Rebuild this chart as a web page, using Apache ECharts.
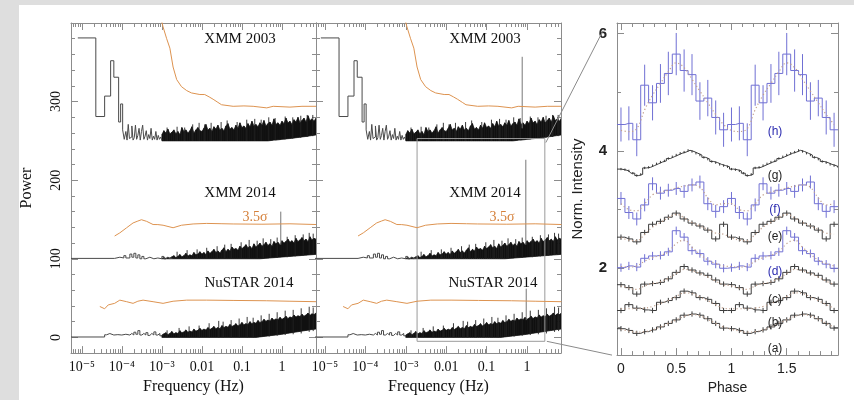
<!DOCTYPE html>
<html>
<head>
<meta charset="utf-8">
<script src="https://cdn.jsdelivr.net/npm/echarts@6/dist/echarts.min.js"></script>
<style>
  html, body { margin: 0; padding: 0; background: #dedede; }
  #sheet { position: absolute; left: 19px; top: 5px; width: 835px; height: 395px; background: #fff; }
  #c { position: absolute; left: 0; top: 0; width: 854px; height: 400px; }
</style>
</head>
<body>
<div id="sheet"></div>
<div id="c"></div>
<script>
// ---------- axis ticks and labels ----------
const freqTickPos = [-5, -4, -3, -2, -1, 0];           // log10(Hz)
const freqTickText = ['10⁻⁵', '10⁻⁴', '10⁻³', '0.01', '0.1', '1'];
const powerTicks = [0, 100, 200, 300];
const powerMinorTicks = [-20, 20, 40, 60, 80, 120, 140, 160, 180, 220, 240, 260, 280, 320, 340, 360, 380];
const phaseTicks = [0, 0.5, 1, 1.5];
const phaseTickText = ['0', '0.5', '1', '1.5'];
const phaseMinorTicks = [0.1, 0.2, 0.3, 0.4, 0.6, 0.7, 0.8, 0.9, 1.1, 1.2, 1.3, 1.4, 1.6, 1.7, 1.8, 1.9];
const intensityTicks = [2, 4, 6];
const intensityMinorTicks = [1, 3, 5];

// ---------- power spectra: [log10 f, power] (offset by 250 / 100 / 0) ----------
// low-frequency bins, each power holds until the next frequency
const xmm03Low = [[-5.10, 381], [-4.65, 281], [-4.43, 307], [-4.28, 352], [-4.20, 331], [-4.08, 274], [-4.03, 297],
  [-3.98, 264], [-3.94, 252], [-3.90, 262], [-3.87, 251], [-3.84, 271], [-3.81, 253], [-3.78, 255], [-3.75, 269],
  [-3.72, 251], [-3.69, 254], [-3.66, 270], [-3.63, 252], [-3.60, 257], [-3.57, 266], [-3.54, 251], [-3.51, 262],
  [-3.48, 270], [-3.45, 252], [-3.42, 256], [-3.39, 263], [-3.36, 251], [-3.33, 258], [-3.30, 253], [-3.27, 266],
  [-3.24, 251], [-3.21, 256], [-3.18, 252], [-3.15, 262], [-3.12, 251], [-3.09, 257], [-3.06, 252], [-3.03, 255], [-3.00, 251]];
const xmm14Low = [[-5.27, 100.5], [-4.18, 102], [-4.05, 101], [-3.95, 104], [-3.90, 101], [-3.80, 106], [-3.75, 102],
  [-3.70, 107], [-3.65, 101], [-3.60, 105], [-3.55, 100], [-3.50, 103], [-3.45, 100], [-3.40, 102], [-3.30, 100],
  [-3.20, 101], [-3.10, 100], [-3.00, 103], [-2.95, 100], [-2.90, 102], [-2.85, 100], [-2.80, 101], [-2.75, 100]];
const nuLow = [[-5.27, 0.5], [-4.43, 3.3], [-4.38, 4.9], [-4.30, 3], [-4.20, 3.5], [-4.10, 3], [-4.00, 4], [-3.90, 3],
  [-3.80, 5], [-3.75, 3], [-3.70, 6.6], [-3.65, 4], [-3.60, 8.6], [-3.55, 3], [-3.50, 5], [-3.45, 3], [-3.40, 6],
  [-3.35, 2.5], [-3.30, 5], [-3.25, 3], [-3.20, 7], [-3.15, 3], [-3.10, 5], [-3.05, 2], [-3.00, 3]];

// dense high-frequency part, sampled every 0.05 dex: lower and upper edge of the noise
const bandFreq = [-3.00, -2.95, -2.90, -2.85, -2.80, -2.75, -2.70, -2.65, -2.60, -2.55,
  -2.50, -2.45, -2.40, -2.35, -2.30, -2.25, -2.20, -2.15, -2.10, -2.05,
  -2.00, -1.95, -1.90, -1.85, -1.80, -1.75, -1.70, -1.65, -1.60, -1.55,
  -1.50, -1.45, -1.40, -1.35, -1.30, -1.25, -1.20, -1.15, -1.10, -1.05,
  -1.00, -0.95, -0.90, -0.85, -0.80, -0.75, -0.70, -0.65, -0.60, -0.55,
  -0.50, -0.45, -0.40, -0.35, -0.30, -0.25, -0.20, -0.15, -0.10, -0.05,
  0.00, 0.05, 0.10, 0.15, 0.20, 0.25, 0.30, 0.35, 0.40, 0.45,
  0.50, 0.55, 0.60, 0.65, 0.70, 0.75, 0.80, 0.85];
const xmm03Upper = [258, 263, 260, 265, 259, 261, 264, 259, 262, 258,
  267, 262, 264, 260, 263, 268, 260, 264, 267, 263,
  262, 266, 271, 264, 266, 262, 268, 265, 270, 264,
  266, 263, 269, 272, 265, 267, 264, 270, 266, 273,
  267, 269, 266, 272, 268, 275, 269, 271, 268, 273,
  270, 276, 269, 272, 274, 270, 278, 271, 273, 270,
  275, 272, 279, 273, 275, 271, 277, 274, 280, 273,
  276, 279, 274, 282, 276, 278, 275, 279];
const xmm03Lower = [250, 250, 250, 250, 250, 250, 250, 250, 250, 250,
  250, 250, 250, 250, 250, 250, 250, 250, 250, 250,
  250, 250, 250, 250, 250, 250, 250, 250, 250, 250,
  250, 250, 250, 250, 250, 250, 250, 250, 250, 250,
  250, 250, 250, 250, 250, 250, 250, 250, 250, 250,
  250, 250, 250, 250, 250.3, 250.6, 251, 251, 251.3, 251.6,
  252, 252.2, 252.5, 252.8, 253, 253.3, 253.6, 254, 254.3, 254.6,
  255, 255.3, 255.6, 256, 256.4, 256.8, 257.2, 257.5];
const xmm14Upper = [100.5, 101.5, 100.5, 102, 101, 102.5, 104, 101.5, 103, 105.5,
  102.5, 104, 107, 103.5, 105, 104, 108, 105, 106, 109,
  106, 108, 105.5, 110, 107, 109, 112, 108, 110, 107.5,
  111, 114, 109, 112, 110, 115, 112, 113, 111, 116,
  113, 115, 118, 114, 116, 113, 119, 115, 117, 120,
  116, 118, 121, 117, 119, 116, 122, 119, 121, 118,
  123, 120, 122, 125, 121, 123, 120, 126, 122, 124,
  127, 123, 125, 122, 128, 124, 126, 125];
const xmm14Lower = [100, 100, 100, 100, 100, 100, 100, 100, 100, 100,
  100, 100, 100, 100, 100, 100, 100, 100, 100, 100,
  100, 100, 100, 100, 100, 100, 100, 100, 100, 100,
  100, 100, 100, 100, 100, 100, 100, 100, 100, 100,
  100, 100, 100, 100, 100, 100, 100, 100, 100, 100,
  100.2, 100.4, 100.6, 100.8, 101, 101.2, 101.4, 101.6, 101.8, 102,
  102.2, 102.4, 102.6, 102.8, 103, 103.2, 103.4, 103.6, 103.8, 104,
  104.2, 104.4, 104.6, 104.8, 105, 105.2, 105.4, 105.6];
const nuUpper = [3, 4.5, 6, 3.5, 5, 7.5, 4.5, 6, 5, 8.5,
  6, 7, 9.5, 6.5, 8, 7, 10.5, 8, 9, 11.5,
  9, 10.5, 9.5, 12.5, 10, 11.5, 14, 11, 12.5, 11,
  15, 12.5, 14, 13, 16.5, 14, 15, 17.5, 14.5, 16,
  19, 16, 17.5, 16.5, 20, 17.5, 19, 18, 21.5, 19,
  20, 23, 20.5, 22, 21, 24.5, 22, 23.5, 22.5, 25.5,
  23, 24.5, 27, 24, 26, 25, 28.5, 26, 27.5, 26.5,
  29.5, 27, 28.5, 31, 28, 30, 29, 31];
const nuLower = [0, 0, 0, 0, 0, 0, 0, 0, 0, 0,
  0, 0, 0, 0, 0, 0, 0, 0, 0, 0,
  0, 0, 0, 0, 0, 0, 0, 0, 0, 0,
  0, 0, 0, 0, 0, 0, 0, 0, 0, 0,
  0, 0, 0, 0, 0, 0, 0, 0, 0.3, 0.6,
  0.9, 1.2, 1.5, 1.8, 2.1, 2.4, 2.7, 3.0, 3.3, 3.6,
  4.0, 4.4, 4.8, 5.2, 5.6, 6.0, 6.4, 6.8, 7.2, 7.6,
  8.0, 8.4, 8.8, 9.2, 9.6, 10, 10.3, 10.6];

// tallest individual bins: [log10 f, floor, peak]
const xmm03Spikes = [[-2.87, 250, 267], [-2.62, 250, 268], [-2.43, 250, 267], [-2.23, 250, 271], [-2.07, 250, 273],
  [-1.93, 250, 271], [-1.77, 250, 273], [-1.52, 250, 274], [-1.37, 250, 276], [-1.12, 250, 274], [-0.88, 250, 277],
  [-0.68, 250, 278], [-0.52, 250, 277], [-0.33, 250, 280], [-0.17, 251, 279], [0.08, 252, 281], [0.27, 253, 280],
  [0.47, 254, 282], [0.63, 255, 283], [0.77, 256, 283]];
const xmm14Spikes = [[-2.62, 100, 109], [-2.37, 100, 111], [-2.12, 100, 112], [-1.88, 100, 114], [-1.62, 100, 116],
  [-1.43, 100, 118], [-1.27, 100, 119], [-1.02, 100, 121], [-0.82, 100, 124], [-0.62, 100, 123], [-0.47, 100, 126],
  [-0.28, 101, 125], [-0.12, 101, 127], [0.13, 102, 128], [0.33, 103, 130], [0.53, 104, 131], [0.68, 105, 133],
  [0.78, 105, 132]];
const nuSpikes = [[-2.87, 0, 9], [-2.57, 0, 12], [-2.32, 0, 14], [-2.07, 0, 15], [-1.82, 0, 18], [-1.58, 0, 21],
  [-1.47, 0, 20], [-1.27, 0, 22], [-1.07, 0, 24], [-0.87, 0, 26], [-0.72, 0, 25], [-0.52, 1, 28], [-0.32, 1, 30],
  [-0.12, 2, 32], [0.08, 3, 34], [0.28, 4, 35], [0.48, 5, 37], [0.68, 7, 39], [0.78, 8, 38]];

// 3.5 sigma detection thresholds
const xmm03Sigma = [[-3.02, 405], [-2.97, 395], [-2.88, 380], [-2.8, 368], [-2.72, 344], [-2.63, 328], [-2.51, 319],
  [-2.38, 314], [-2.26, 311], [-2.05, 309], [-2.01, 311], [-1.93, 309], [-1.82, 306], [-1.72, 303], [-1.6, 299],
  [-1.51, 296], [-1.22, 294], [-0.95, 294.5], [-0.72, 294], [-0.38, 292], [-0.22, 294], [0.2, 293], [0.5, 294], [0.85, 294]];
const xmm14Sigma = [[-4.18, 129], [-4.05, 133], [-3.88, 139.5], [-3.72, 145.6], [-3.6, 148], [-3.51, 149.7],
  [-3.38, 147.6], [-3.22, 143.6], [-3.1, 143.5], [-2.97, 142.7], [-2.72, 139.5], [-2.51, 142.7], [-2.22, 144.3],
  [-1.88, 145], [-1.5, 144.6], [-1.22, 144.3], [-0.5, 144], [0.2, 144.5], [0.85, 143.6]];
const nuSigma = [[-4.55, 39.3], [-4.43, 36.4], [-4.34, 41.3], [-4.18, 43.3], [-4.05, 47.4], [-3.88, 45.4],
  [-3.72, 43.3], [-3.6, 46], [-3.47, 47.4], [-3.22, 45.4], [-2.97, 43.3], [-2.72, 46], [-2.38, 47.4],
  [-1.88, 47.4], [-1.2, 47], [-0.38, 46.6], [0.2, 46], [0.85, 45.4]];

// pulse-frequency bins: [log10 f, bottom, top]
const leftPulse = [[-0.03, 118, 160]];
const midPulse = [[-0.12, 266, 357], [-0.03, 118, 226], [-0.02, 22, 62]];

// zoomed region: [log f min, power min, log f max, power max]
const zoomBox = [-2.72, -5, 0.44, 253];

// ---------- folded pulse profiles (one cycle, 14 bins; g has 28) ----------
const profH = [4.45, 4.47, 4.19, 5.12, 4.82, 5.15, 5.32, 5.65, 5.37, 5.30, 4.85, 4.90, 4.57, 4.36];
const errH  = [0.29, 0.29, 0.28, 0.35, 0.30, 0.33, 0.37, 0.36, 0.36, 0.35, 0.32, 0.31, 0.29, 0.29];
const modH  = [4.35, 4.33, 4.38, 4.70, 4.95, 5.15, 5.35, 5.50, 5.42, 5.22, 5.02, 4.82, 4.62, 4.45];
const profG = [3.69, 3.68, 3.66, 3.62, 3.58, 3.60, 3.71, 3.72, 3.75, 3.78, 3.81, 3.83, 3.87, 3.90,
               3.93, 3.96, 3.98, 4.01, 3.99, 3.96, 3.93, 3.89, 3.86, 3.82, 3.80, 3.77, 3.75, 3.73];
const profF = [3.19, 2.95, 2.84, 3.08, 3.44, 3.28, 3.33, 3.36, 3.31, 3.42, 3.47, 3.10, 2.97, 3.05];
const modF  = [3.10, 3.00, 2.98, 3.10, 3.25, 3.30, 3.33, 3.37, 3.40, 3.42, 3.38, 3.20, 3.08, 3.10];
const profE = [2.53, 2.50, 2.45, 2.61, 2.75, 2.80, 2.87, 2.94, 2.84, 2.77, 2.72, 2.65, 2.50, 2.75];
const modE  = [2.52, 2.48, 2.47, 2.58, 2.70, 2.78, 2.86, 2.92, 2.86, 2.78, 2.72, 2.66, 2.60, 2.58];
const profD = [2.01, 2.04, 2.02, 2.17, 2.21, 2.22, 2.28, 2.64, 2.53, 2.30, 2.25, 2.12, 2.07, 2.00];
const modD  = [2.03, 2.02, 2.04, 2.12, 2.18, 2.22, 2.28, 2.42, 2.48, 2.36, 2.24, 2.14, 2.08, 2.04];
const profC = [1.72, 1.67, 1.56, 1.73, 1.74, 1.76, 1.82, 1.93, 2.03, 1.97, 1.92, 1.88, 1.80, 1.73];
const modC  = [1.70, 1.66, 1.64, 1.70, 1.74, 1.77, 1.83, 1.91, 1.98, 1.96, 1.91, 1.85, 1.78, 1.72];
const profB = [1.28, 1.38, 1.32, 1.29, 1.28, 1.42, 1.45, 1.50, 1.61, 1.58, 1.50, 1.47, 1.40, 1.28];
const modB  = [1.31, 1.31, 1.31, 1.32, 1.35, 1.40, 1.45, 1.52, 1.58, 1.57, 1.51, 1.45, 1.38, 1.32];
const profA = [0.97, 0.94, 0.89, 0.92, 0.95, 1.00, 1.06, 1.12, 1.20, 1.22, 1.20, 1.14, 1.06, 0.98];
const modA  = [0.96, 0.93, 0.91, 0.92, 0.95, 1.00, 1.06, 1.12, 1.18, 1.21, 1.19, 1.13, 1.06, 1.00];

// ---------- styling ----------
const SERIF = '"Liberation Serif", "DejaVu Serif", serif';
const SANS = '"Liberation Sans", Arial, sans-serif';
const FRAME = '#8c8c8c';
const ORANGE = '#dd9350';
const NOISE = '#111111';
const STEPS = '#4a4a4a';
const BLUE = '#7070d4';
const BLUE_TEXT = '#2c2cb0';
const GREY_PROFILE = '#3c3c3c';
const MODEL = '#c2a08c';

const PHASE_MIN = -0.036, PHASE_MAX = 1.964;

// ---------- axes ----------
const xAxes = [], yAxes = [];
const FRAME_LINE = { show: true, onZero: false, lineStyle: { color: FRAME, width: 1 } };
function freqMinor(min, max) {
  const out = [];
  for (let n = -6; n <= 0; n++) {
    for (let k = 2; k <= 9; k++) {
      const v = n + Math.log10(k);
      if (v > min && v < max) out.push(v);
    }
  }
  return out;
}
function tickAxis(base, ticks, len, extra) {
  return Object.assign({}, base, {
    axisLine: { show: false, onZero: false },
    axisTick: { show: true, inside: true, length: len, customValues: ticks, lineStyle: { color: FRAME } },
    axisLabel: { show: false },
    splitLine: { show: false }
  }, extra || {});
}
function addLogPanel(gi, min, max, showPowerLabels) {
  const bx = { gridIndex: gi, type: 'value', min: min, max: max };
  const minor = freqMinor(min, max);
  xAxes.push(Object.assign({}, bx, {
    position: 'bottom',
    axisLine: FRAME_LINE,
    axisTick: { show: true, inside: true, length: 7, customValues: freqTickPos, lineStyle: { color: FRAME } },
    axisLabel: {
      customValues: freqTickPos, margin: 7, color: '#111', fontFamily: SERIF, fontSize: 14,
      formatter: v => freqTickText[freqTickPos.indexOf(Math.round(v))]
    },
    splitLine: { show: false },
    name: 'Frequency (Hz)', nameLocation: 'middle', nameGap: 23,
    nameTextStyle: { fontFamily: SERIF, fontSize: 16, color: '#111' }
  }));
  xAxes.push(tickAxis(bx, minor, 4, { position: 'bottom' }));
  xAxes.push(Object.assign(tickAxis(bx, freqTickPos, 7, { position: 'top' }), { axisLine: FRAME_LINE }));
  xAxes.push(tickAxis(bx, minor, 4, { position: 'top' }));

  const by = { gridIndex: gi, type: 'value', min: -20, max: 400 };
  yAxes.push(Object.assign({}, by, {
    position: 'left',
    axisLine: FRAME_LINE,
    axisTick: { show: true, inside: true, length: 7, customValues: powerTicks, lineStyle: { color: FRAME } },
    axisLabel: showPowerLabels ? {
      customValues: powerTicks, rotate: 90, margin: 8, color: '#111', fontFamily: SERIF, fontSize: 14
    } : { show: false },
    splitLine: { show: false },
    name: showPowerLabels ? 'Power' : '', nameLocation: 'middle', nameGap: 36, nameRotate: 90,
    nameTextStyle: { fontFamily: SERIF, fontSize: 16, color: '#111' }
  }));
  yAxes.push(tickAxis(by, powerMinorTicks, 4, { position: 'left' }));
  yAxes.push(Object.assign(tickAxis(by, powerTicks, 7, { position: 'right' }), { axisLine: FRAME_LINE }));
  yAxes.push(tickAxis(by, powerMinorTicks, 4, { position: 'right' }));
}
addLogPanel(0, -5.27, 0.85, true);
addLogPanel(1, -5.22, 0.84, false);

(function addPhasePanel() {
  const bx = { gridIndex: 2, type: 'value', min: PHASE_MIN, max: PHASE_MAX };
  xAxes.push(Object.assign({}, bx, {
    position: 'bottom',
    axisLine: FRAME_LINE,
    axisTick: { show: true, inside: true, length: 7, customValues: phaseTicks, lineStyle: { color: FRAME } },
    axisLabel: {
      customValues: phaseTicks, margin: 7, color: '#222', fontFamily: SANS, fontSize: 14,
      formatter: v => phaseTickText[phaseTicks.indexOf(v)]
    },
    splitLine: { show: false },
    name: 'Phase', nameLocation: 'middle', nameGap: 22,
    nameTextStyle: { fontFamily: SANS, fontSize: 14, color: '#222' }
  }));
  xAxes.push(tickAxis(bx, phaseMinorTicks, 4, { position: 'bottom' }));
  xAxes.push(Object.assign(tickAxis(bx, phaseTicks, 7, { position: 'top' }), { axisLine: FRAME_LINE }));
  xAxes.push(tickAxis(bx, phaseMinorTicks, 4, { position: 'top' }));

  const by = { gridIndex: 2, type: 'value', min: 0.52, max: 6.18 };
  yAxes.push(Object.assign({}, by, {
    position: 'left',
    axisLine: FRAME_LINE,
    axisTick: { show: true, inside: true, length: 7, customValues: intensityTicks, lineStyle: { color: FRAME } },
    axisLabel: {
      customValues: intensityTicks, margin: 10, color: '#222', fontFamily: SANS, fontSize: 15, fontWeight: 'bold'
    },
    splitLine: { show: false },
    name: 'Norm. Intensity', nameLocation: 'middle', nameGap: 32, nameRotate: 90,
    nameTextStyle: { fontFamily: SANS, fontSize: 15, color: '#222' }
  }));
  yAxes.push(tickAxis(by, intensityMinorTicks, 4, { position: 'left' }));
  yAxes.push(Object.assign(tickAxis(by, intensityTicks, 7, { position: 'right' }), { axisLine: FRAME_LINE }));
  yAxes.push(tickAxis(by, intensityMinorTicks, 4, { position: 'right' }));
})();

// ---------- series builders ----------
const series = [];
function bandSeries(lower, upper, ai) {
  const rows = bandFreq.map((f, i) => [f, lower[i], upper[i]]);
  return {
    type: 'custom', xAxisIndex: ai, yAxisIndex: ai, clip: true, silent: true,
    data: rows,
    renderItem: (params, api) => {
      const i = params.dataIndex;
      if (i >= rows.length - 1) return null;
      const a = rows[i], b = rows[i + 1];
      return {
        type: 'polygon',
        shape: { points: [api.coord([a[0], a[1]]), api.coord([b[0], b[1]]), api.coord([b[0], b[2]]), api.coord([a[0], a[2]])] },
        style: { fill: NOISE, stroke: NOISE, lineWidth: 0.7 }
      };
    }
  };
}
function vlineSeries(rows, ai, color, width) {
  return {
    type: 'custom', xAxisIndex: ai, yAxisIndex: ai, clip: true, silent: true,
    data: rows,
    renderItem: (params, api) => {
      const p0 = api.coord([api.value(0), api.value(1)]);
      const p1 = api.coord([api.value(0), api.value(2)]);
      return { type: 'line', shape: { x1: p0[0], y1: p0[1], x2: p1[0], y2: p1[1] },
               style: { stroke: color, lineWidth: width } };
    }
  };
}
function lineSeries(rows, ai, color, opts) {
  return Object.assign({
    type: 'line', xAxisIndex: ai, yAxisIndex: ai, data: rows, symbol: 'none', silent: true,
    lineStyle: { color: color, width: 1 }, clip: true, animation: false
  }, opts || {});
}

[0, 4].forEach((ai, panel) => {
  series.push(lineSeries(xmm03Sigma, ai, ORANGE));
  series.push(lineSeries(xmm14Sigma, ai, ORANGE));
  series.push(lineSeries(nuSigma, ai, ORANGE));
  series.push(lineSeries(xmm03Low, ai, STEPS, { step: 'end' }));
  series.push(lineSeries(xmm14Low, ai, STEPS, { step: 'end' }));
  series.push(lineSeries(nuLow, ai, STEPS, { step: 'end' }));
  series.push(bandSeries(xmm03Lower, xmm03Upper, ai));
  series.push(bandSeries(xmm14Lower, xmm14Upper, ai));
  series.push(bandSeries(nuLower, nuUpper, ai));
  series.push(vlineSeries(xmm03Spikes, ai, '#222', 0.9));
  series.push(vlineSeries(xmm14Spikes, ai, '#222', 0.9));
  series.push(vlineSeries(nuSpikes, ai, '#222', 0.9));
  series.push(vlineSeries(panel === 0 ? leftPulse : midPulse, ai, '#777', 1));
});

// outline of the zoomed region in the middle panel
series.push({
  type: 'custom', xAxisIndex: 4, yAxisIndex: 4, silent: true, data: [zoomBox],
  renderItem: (params, api) => {
    const p0 = api.coord([api.value(0), api.value(3)]);
    const p1 = api.coord([api.value(2), api.value(1)]);
    return { type: 'rect', shape: { x: p0[0], y: p0[1], width: p1[0] - p0[0], height: p1[1] - p0[1] },
             style: { fill: 'none', stroke: '#9a9a9a', lineWidth: 1 } };
  }
});

// pulse profiles: two cycles of each folded light curve
function twoCycles(vals) {
  const n = vals.length, pts = [];
  const all = vals.concat(vals);
  pts.push([PHASE_MIN, all[0]]);
  all.forEach((v, k) => pts.push([k / n, v]));
  pts.push([PHASE_MAX, all[all.length - 1]]);
  return pts;
}
function profile(vals, errs, model, color) {
  const ai = 8;
  series.push(lineSeries(twoCycles(vals), ai, color, { step: 'middle', lineStyle: { color: color, width: 1 } }));
  const n = vals.length;
  const bars = [];
  vals.concat(vals).forEach((v, k) => {
    const e = Array.isArray(errs) ? errs[k % n] : errs;
    bars.push([k / n, v - e, v + e]);
  });
  series.push(vlineSeries(bars, ai, color, 1));
  if (model) {
    const m = model.concat(model).map((v, k) => [k / n, v]);
    series.push(lineSeries(m, ai, MODEL, { smooth: 0.4, lineStyle: { color: MODEL, width: 1.2, type: [1.2, 2.5] } }));
  }
}
profile(profA, 0.045, modA, GREY_PROFILE);
profile(profB, 0.045, modB, GREY_PROFILE);
profile(profC, 0.045, modC, GREY_PROFILE);
profile(profD, 0.07, modD, BLUE);
profile(profE, 0.045, modE, GREY_PROFILE);
profile(profF, 0.11, modF, BLUE);
profile(profG, 0.02, null, GREY_PROFILE);
profile(profH, errH, modH, BLUE);

// ---------- text annotations ----------
function txt(id, x, y, text, font, color) {
  return { id: id, type: 'text', x: x, y: y, z: 100, silent: true,
           style: { text: text, font: font, fill: color, align: 'center', verticalAlign: 'middle' } };
}
const F_PANEL = '15px ' + SERIF;
const F_SIG = '14px ' + SERIF;
const F_LBL = '12px ' + SANS;
const texts = [
  txt('t1', 240, 39, 'XMM 2003', F_PANEL, '#111'),
  txt('t2', 240, 193, 'XMM 2014', F_PANEL, '#111'),
  txt('t3', 249, 283, 'NuSTAR 2014', F_PANEL, '#111'),
  txt('t4', 255, 217, '3.5σ', F_SIG, '#d5803a'),
  txt('t5', 485, 39, 'XMM 2003', F_PANEL, '#111'),
  txt('t6', 485, 193, 'XMM 2014', F_PANEL, '#111'),
  txt('t7', 493, 283, 'NuSTAR 2014', F_PANEL, '#111'),
  txt('t8', 502, 217, '3.5σ', F_SIG, '#d5803a'),
  txt('ph', 775, 132, '(h)', F_LBL, BLUE_TEXT),
  txt('pg', 775, 176, '(g)', F_LBL, '#222'),
  txt('pf', 775, 210, '(f)', F_LBL, BLUE_TEXT),
  txt('pe', 775, 237, '(e)', F_LBL, '#222'),
  txt('pd', 775, 272, '(d)', F_LBL, BLUE_TEXT),
  txt('pc', 775, 300, '(c)', F_LBL, '#222'),
  txt('pb', 775, 323, '(b)', F_LBL, '#222'),
  txt('pa', 775, 349, '(a)', F_LBL, '#222')
];

const chart = echarts.init(document.getElementById('c'), null, { renderer: 'canvas' });
chart.setOption({
  backgroundColor: 'transparent',
  animation: false,
  grid: [
    { left: 71, top: 23, width: 245, height: 341 },
    { left: 316, top: 23, width: 245, height: 341 },
    { left: 617, top: 23, width: 221, height: 341 }
  ],
  xAxis: xAxes,
  yAxis: yAxes,
  series: series,
  graphic: texts
});

// connector lines from the zoomed box to the profile panel
const boxTop = chart.convertToPixel({ xAxisIndex: 4, yAxisIndex: 4 }, [zoomBox[2], zoomBox[3]]);
const boxBot = chart.convertToPixel({ xAxisIndex: 4, yAxisIndex: 4 }, [zoomBox[2], zoomBox[1]]);
const profTop = chart.convertToPixel({ xAxisIndex: 8, yAxisIndex: 8 }, [PHASE_MIN, 6.05]);
const profBot = chart.convertToPixel({ xAxisIndex: 8, yAxisIndex: 8 }, [PHASE_MIN, 0.52]);
chart.setOption({
  graphic: [
    { id: 'link1', type: 'line', silent: true, z: 50,
      shape: { x1: boxTop[0] + 1, y1: boxTop[1] + 4, x2: profTop[0] - 14, y2: profTop[1] },
      style: { stroke: '#8a8a8a', lineWidth: 1 } },
    { id: 'link2', type: 'line', silent: true, z: 50,
      shape: { x1: boxBot[0] + 2, y1: boxBot[1], x2: profBot[0] - 5, y2: profBot[1] },
      style: { stroke: '#8a8a8a', lineWidth: 1 } }
  ]
});
</script>
</body>
</html>
